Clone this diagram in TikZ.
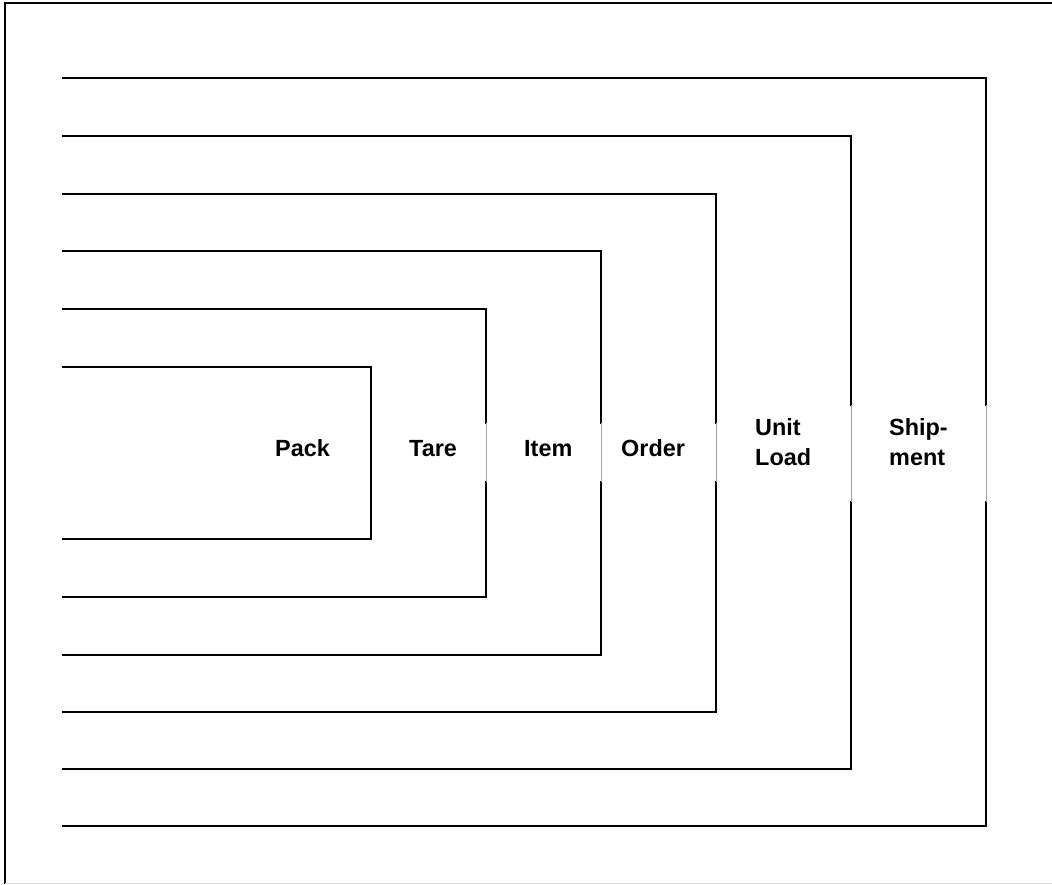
\documentclass[tikz,border=0pt]{standalone}
\usepackage{fontspec}
\setmainfont{Liberation Sans}
\begin{document}
\begin{tikzpicture}[x=1pt,y=-1pt,
  box/.style={line width=1.6pt,line cap=rect},
  gapline/.style={line width=0.6pt,gray!70},
  lbl/.style={font=\fontsize{23.4}{30}\selectfont\bfseries,inner sep=0pt,align=left,anchor=west},
  lblb/.style={lbl,anchor=base west}]
\useasboundingbox (0,0) rectangle (1052,884);
% frame
\draw[line width=1.6pt] (1052,3) -- (5,3) -- (5,884);
\draw[line width=1pt,gray!25] (5,883) -- (1052,883);
% Pack
\draw[box] (63,367) -- (371,367) -- (371,539) -- (63,539);
% Tare
\draw[box] (63,309) -- (486,309) -- (486,423);
\draw[box] (486,482) -- (486,597) -- (63,597);
\draw[gapline] (486,423) -- (486,482);
% Item
\draw[box] (63,251) -- (601,251) -- (601,423);
\draw[box] (601,482) -- (601,655) -- (63,655);
\draw[gapline] (601,423) -- (601,482);
% Order
\draw[box] (63,194) -- (716,194) -- (716,423);
\draw[box] (716,482) -- (716,712) -- (63,712);
\draw[gapline] (716,423) -- (716,482);
% Unit Load
\draw[box] (63,136) -- (851,136) -- (851,405);
\draw[box] (851,502) -- (851,769) -- (63,769);
\draw[gapline] (851,405) -- (851,502);
% Shipment
\draw[box] (63,78) -- (986,78) -- (986,405);
\draw[box] (986,502) -- (986,826) -- (63,826);
\draw[gapline] (986,405) -- (986,502);
% labels
\node[lblb] (pack) at (275,456) {Pack};
\node[lblb] (tare) at (409,456) {Tare};
\node[lblb] (item) at (524,456) {Item};
\node[lblb] (order) at (621,456) {Order};
\node[lbl] (unit) at (755,442) {Unit\\Load};
\node[lbl] (ship) at (889,442) {Ship-\\ment};
\end{tikzpicture}
\end{document}
